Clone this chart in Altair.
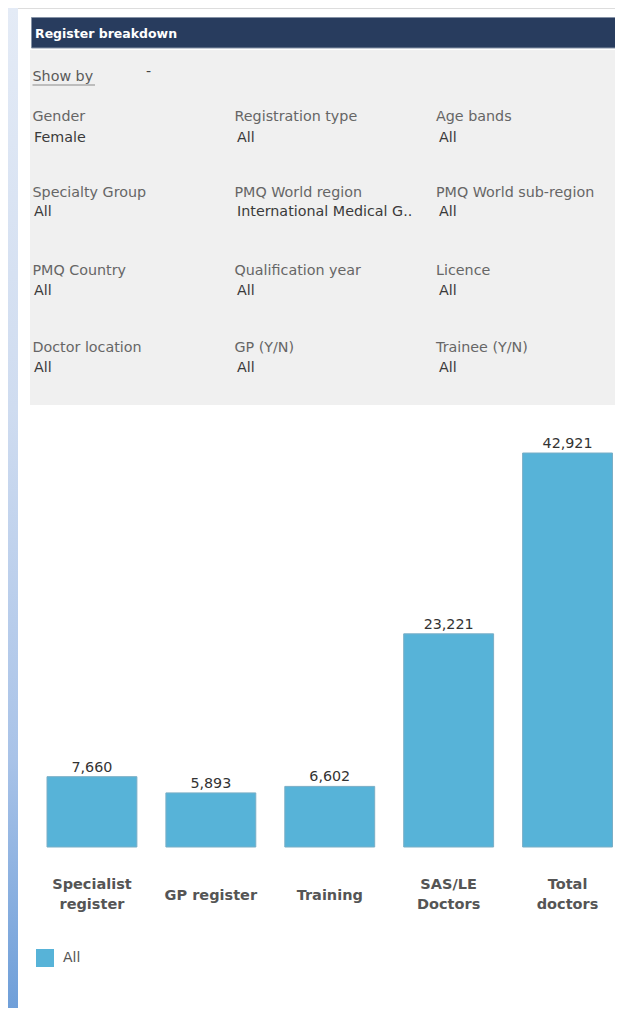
import altair as alt
import pandas as pd

# ---- data ----
categories = ["Specialist\nregister", "GP register", "Training", "SAS/LE\nDoctors", "Total\ndoctors"]
values = [7660, 5893, 6602, 23221, 42921]
series = ["All"] * 5

filter_names = ["Gender", "Registration type", "Age bands",
                "Specialty Group", "PMQ World region", "PMQ World sub-region",
                "PMQ Country", "Qualification year", "Licence",
                "Doctor location", "GP (Y/N)", "Trainee (Y/N)"]
filter_values = ["Female", "All", "All",
                 "All", "International Medical G..", "All",
                 "All", "All", "All",
                 "All", "All", "All"]

title_text = "Register breakdown"
show_by_text = "Show by"

df = pd.DataFrame({"category": categories, "value": values, "series": series})

W, H = 607, 1000
FONT = "DejaVu Sans"
FS = 14.3
one = alt.Data(values=[{}])

layers = []

# left gradient strip
layers.append(alt.Chart(one).mark_rect(
    fill=alt.LinearGradient(gradient="linear", x1=0, x2=0, y1=0, y2=1,
                            stops=[alt.GradientStop(color="#e4ebf6", offset=0),
                                   alt.GradientStop(color="#cfdcf0", offset=0.4),
                                   alt.GradientStop(color="#a9c3e8", offset=0.75),
                                   alt.GradientStop(color="#6f9fd9", offset=1)])
).encode(x=alt.value(0), x2=alt.value(10), y=alt.value(0), y2=alt.value(H)))

# header bar
layers.append(alt.Chart(one).mark_rect(fill="#283c5e", stroke="#8592a6", strokeWidth=1).encode(
    x=alt.value(23.5), x2=alt.value(W + 2), y=alt.value(9.5), y2=alt.value(40)))
layers.append(alt.Chart(one).mark_text(text=title_text, font=FONT, fontSize=12.5, fontWeight="bold",
                                       color="white", align="left", baseline="middle").encode(
    x=alt.value(27), y=alt.value(25.5)))

# filter panel
layers.append(alt.Chart(one).mark_rect(fill="#f0f0f0").encode(
    x=alt.value(22), x2=alt.value(W), y=alt.value(42), y2=alt.value(397)))
layers.append(alt.Chart(one).mark_text(text=show_by_text, font=FONT, fontSize=FS, color="#5a5a5a",
                                       align="left", baseline="middle").encode(
    x=alt.value(24.5), y=alt.value(69)))
layers.append(alt.Chart(one).mark_rule(color="#8a8a8a", strokeWidth=1).encode(
    x=alt.value(24.5), x2=alt.value(87), y=alt.value(77)))
layers.append(alt.Chart(one).mark_text(text="-", font=FONT, fontSize=FS, color="#444",
                                       align="left", baseline="middle").encode(
    x=alt.value(138), y=alt.value(64)))

col_label_x = [24.5, 226.5, 428]
col_value_x = [26, 229, 431]
row_label_y = [108.5, 185, 263, 340]
row_value_y = [129.5, 204, 283, 360]
for i, (name, val) in enumerate(zip(filter_names, filter_values)):
    r, c = divmod(i, 3)
    layers.append(alt.Chart(one).mark_text(text=name, font=FONT, fontSize=FS, color="#666666",
                                           align="left", baseline="middle").encode(
        x=alt.value(col_label_x[c]), y=alt.value(row_label_y[r])))
    layers.append(alt.Chart(one).mark_text(text=val, font=FONT, fontSize=FS, color="#3a3a3a",
                                           align="left", baseline="middle").encode(
        x=alt.value(col_value_x[c]), y=alt.value(row_value_y[r])))

# bar chart
x_enc = alt.X("category:N", sort=categories,
              scale=alt.Scale(range=[39, 604.5], paddingInner=0.244, paddingOuter=0),
              axis=alt.Axis(title=None, domain=False, ticks=False, tickSize=0, labelAngle=0,
                            offset=-(H - 839),
                            labelPadding={"condition": {"test": "indexof(datum.value, '\\n') >= 0",
                                                        "value": 37},
                                          "value": 48},
                            labelBaseline="middle",
                            labelFont=FONT, labelFontSize=14.5, labelFontWeight="bold",
                            labelColor="#555555", labelLineHeight=20,
                            labelExpr="split(datum.label, '\\n')", grid=False))
y_enc = alt.Y("value:Q", scale=alt.Scale(domain=[0, 42921], range=[839, 445], nice=False, zero=True),
              axis=None)

bars = alt.Chart(df).mark_bar(stroke="#79aec6", strokeWidth=1).encode(
    x=x_enc, y=y_enc,
    color=alt.Color("series:N", scale=alt.Scale(domain=["All"], range=["#57b3d8"]),
                    legend=alt.Legend(title=None, orient="none", legendX=28, legendY=941,
                                      symbolType="square", symbolSize=324, symbolStrokeWidth=0,
                                      labelFont=FONT, labelFontSize=14, labelColor="#555555",
                                      labelOffset=9)))
labels = alt.Chart(df).mark_text(font=FONT, fontSize=14.3, color="#333333", baseline="bottom", dy=-2).encode(
    x=alt.X("category:N", sort=categories), y="value:Q", text=alt.Text("value:Q", format=","))

layers += [bars, labels]

chart = alt.layer(*layers).properties(
    width=W, height=H, padding=0, autosize=alt.AutoSizeParams(type="none")
).configure_view(strokeWidth=0).configure(background="white")

chart.save("out.html", embed_options={"renderer": "svg", "actions": False})
